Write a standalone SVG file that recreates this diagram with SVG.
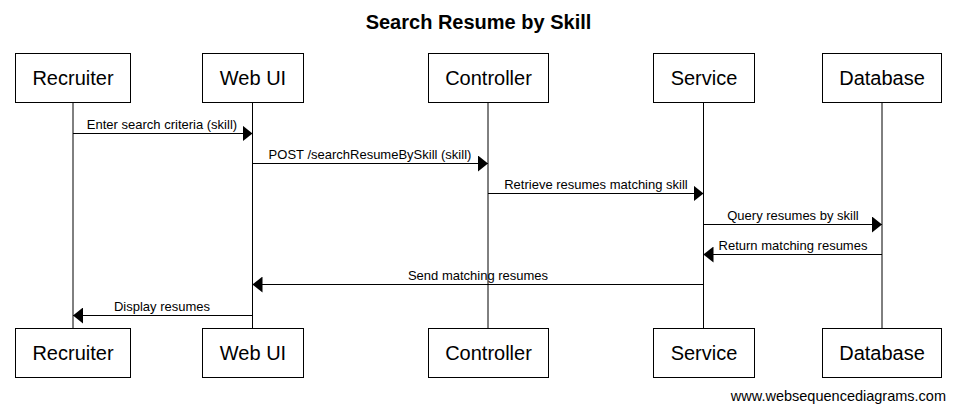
<svg xmlns="http://www.w3.org/2000/svg" width="956" height="411" viewBox="0 0 956 411">
<style>
.box{fill:#fff;stroke:#000;stroke-width:1}
.pt{font-family:"Liberation Sans",Arial,sans-serif;font-size:20px;text-anchor:middle;fill:#000}
.lbl{font-family:"Liberation Sans",Arial,sans-serif;font-size:13px;text-anchor:middle;fill:#000}
.life{stroke:#000;stroke-width:1}
.msg{stroke:#000;stroke-width:1;fill:none}
</style>
<defs>
<marker id="ah" viewBox="0 0 10 16" refX="10" refY="8" markerWidth="10" markerHeight="16" markerUnits="userSpaceOnUse" orient="auto">
<path d="M0,0 L10,8 L0,16 Z" fill="#000"/>
</marker>
</defs>
<rect width="956" height="411" fill="#fff"/>
<text x="478.5" y="29" font-family="'Liberation Sans',Arial,sans-serif" font-size="20" font-weight="bold" text-anchor="middle">Search Resume by Skill</text>
<g id="lifelines">
<line class="life" x1="73" y1="102" x2="73" y2="328"/>
<line class="life" x1="252.5" y1="102" x2="252.5" y2="328"/>
<line class="life" x1="488" y1="102" x2="488" y2="328"/>
<line class="life" x1="703.5" y1="102" x2="703.5" y2="328"/>
<line class="life" x1="882" y1="102" x2="882" y2="328"/>
</g>
<g id="recruiter">
<rect class="box" x="15.5" y="53.5" width="115" height="49"/>
<text class="pt" x="73" y="85">Recruiter</text>
<rect class="box" x="15.5" y="328.5" width="115" height="49"/>
<text class="pt" x="73" y="360">Recruiter</text>
</g>
<g id="webui">
<rect class="box" x="202.5" y="53.5" width="101" height="49"/>
<text class="pt" x="253" y="85">Web UI</text>
<rect class="box" x="202.5" y="328.5" width="101" height="49"/>
<text class="pt" x="253" y="360">Web UI</text>
</g>
<g id="controller">
<rect class="box" x="428.5" y="53.5" width="120" height="49"/>
<text class="pt" x="488.5" y="85">Controller</text>
<rect class="box" x="428.5" y="328.5" width="120" height="49"/>
<text class="pt" x="488.5" y="360">Controller</text>
</g>
<g id="service">
<rect class="box" x="653.5" y="53.5" width="101" height="49"/>
<text class="pt" x="704" y="85">Service</text>
<rect class="box" x="653.5" y="328.5" width="101" height="49"/>
<text class="pt" x="704" y="360">Service</text>
</g>
<g id="database">
<rect class="box" x="822.5" y="53.5" width="119" height="49"/>
<text class="pt" x="882" y="85">Database</text>
<rect class="box" x="822.5" y="328.5" width="119" height="49"/>
<text class="pt" x="882" y="360">Database</text>
</g>
<g id="connectors">
<line class="msg" x1="73" y1="133.5" x2="252.5" y2="133.5" marker-end="url(#ah)"/>
<text class="lbl" x="162" y="129">Enter search criteria (skill)</text>
<line class="msg" x1="252.5" y1="163.5" x2="488" y2="163.5" marker-end="url(#ah)"/>
<text class="lbl" x="370" y="159">POST /searchResumeBySkill (skill)</text>
<line class="msg" x1="488" y1="193.5" x2="703.5" y2="193.5" marker-end="url(#ah)"/>
<text class="lbl" x="596" y="189">Retrieve resumes matching skill</text>
<line class="msg" x1="703.5" y1="224.5" x2="882" y2="224.5" marker-end="url(#ah)"/>
<text class="lbl" x="793" y="220">Query resumes by skill</text>
<line class="msg" x1="882" y1="254.5" x2="703.5" y2="254.5" marker-end="url(#ah)"/>
<text class="lbl" x="793" y="250">Return matching resumes</text>
<line class="msg" x1="703.5" y1="284.5" x2="252.5" y2="284.5" marker-end="url(#ah)"/>
<text class="lbl" x="478" y="280">Send matching resumes</text>
<line class="msg" x1="252.5" y1="315.5" x2="73" y2="315.5" marker-end="url(#ah)"/>
<text class="lbl" x="162" y="311">Display resumes</text>
</g>
<text x="946" y="401" font-family="'Liberation Sans',Arial,sans-serif" font-size="14.5" text-anchor="end">www.websequencediagrams.com</text>
</svg>
